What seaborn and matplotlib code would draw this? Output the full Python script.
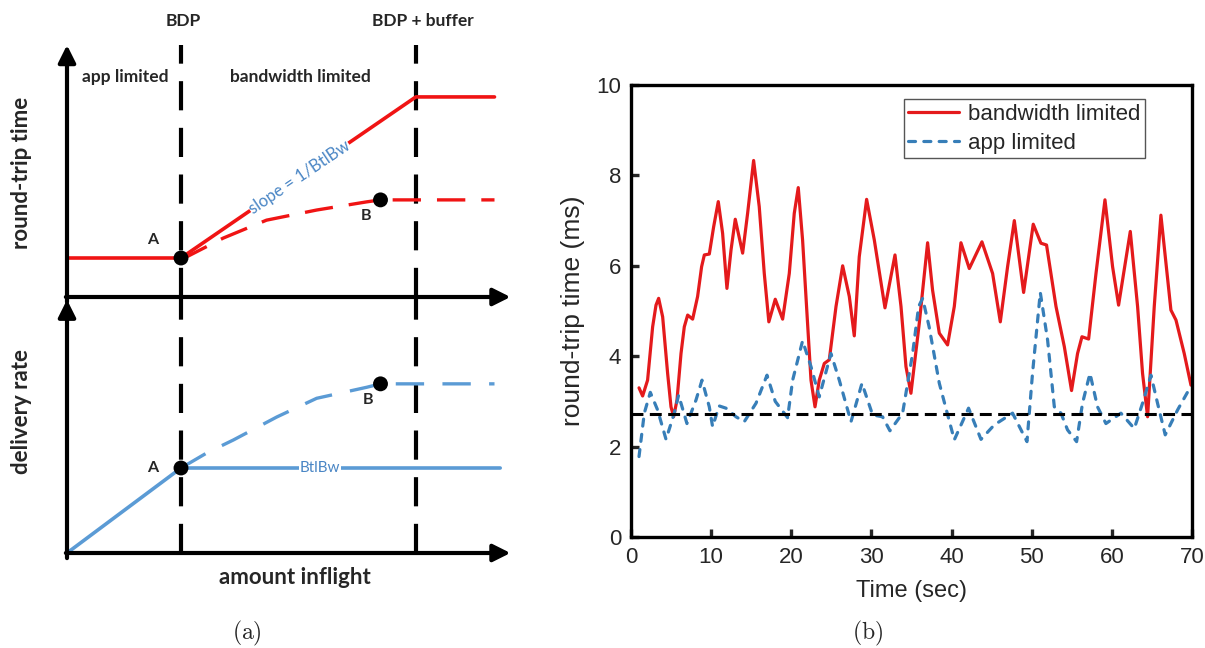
import numpy as np
import pandas as pd
import seaborn as sns
import matplotlib.pyplot as plt

# ---------------- panel (a): schematic, amount inflight in BDP units
bdp = 1.0
bdp_buffer = 3.06
x_end = 3.75

rtprop = 1.0
rtt_max = 5.13
rtt_solid_x = [0.0, bdp, bdp_buffer, x_end]
rtt_solid_y = [rtprop, rtprop, rtt_max, rtt_max]
rtt_dash_x = [1.0, 1.05, 1.37, 1.75, 2.19, 2.63, 2.75, 3.75]
rtt_dash_y = [1.0, 1.03, 1.51, 1.97, 2.23, 2.44, 2.49, 2.49]

btlbw = 1.0
dr_solid_x = [0.0, bdp, 3.8]
dr_solid_y = [0.0, btlbw, btlbw]
dr_dash_x = [1.0, 1.23, 1.46, 1.84, 2.19, 2.63, 2.75, 3.75]
dr_dash_y = [1.0, 1.18, 1.33, 1.60, 1.82, 1.95, 1.99, 1.99]

point_a = (1.0, 1.0)
rtt_point_b = (2.75, 2.49)
dr_point_b = (2.75, 1.99)

# ---------------- panel (b): measured round-trip time
bw_t = [1.0, 1.45, 2.07, 2.70, 3.12, 3.45, 3.95, 4.57, 4.99, 5.32, 5.74, 6.24, 6.65,
        7.07, 7.69, 8.31, 8.81, 9.15, 9.77, 10.31, 10.89, 11.43, 11.97, 12.48, 13.01,
        13.93, 14.55, 15.30, 16.0, 16.63, 17.2, 18.0, 18.92, 19.75, 20.37, 20.87, 21.41,
        22.03, 22.46, 22.96, 23.49, 24.12, 24.74, 25.58, 26.41, 27.24, 27.86, 28.48,
        29.4, 30.36, 31.69, 32.94, 33.69, 34.31, 34.93, 35.97, 37.01, 37.63, 38.47,
        39.5, 40.34, 41.17, 42.21, 43.79, 45.12, 46.08, 46.99, 47.83, 48.99, 50.19,
        51.15, 51.85, 53.03, 54.07, 54.97, 55.72, 56.27, 57.1, 58.02, 59.14, 60.09,
        60.84, 62.3, 63.21, 63.83, 64.46, 65.29, 66.12, 67.37, 68.0, 69.03, 69.87]
bw_rtt = [3.3, 3.12, 3.47, 4.65, 5.13, 5.28, 4.87, 3.62, 2.88, 2.66, 3.03, 4.06, 4.65,
          4.91, 4.82, 5.32, 5.98, 6.24, 6.26, 6.86, 7.42, 6.72, 5.50, 6.35, 7.03,
          6.28, 7.16, 8.33, 7.31, 5.83, 4.76, 5.26, 4.82, 5.83, 7.16, 7.73, 6.57,
          4.73, 3.47, 2.88, 3.47, 3.84, 3.92, 5.10, 6.0, 5.32, 4.45, 6.20,
          7.47, 6.57, 5.07, 6.24, 5.10, 3.77, 3.18, 4.73, 6.51, 5.46, 4.51,
          4.25, 5.10, 6.51, 5.94, 6.53, 5.83, 4.76, 5.98, 7.0, 5.41, 6.92,
          6.50, 6.46, 5.10, 4.21, 3.24, 4.06, 4.43, 4.38, 5.83, 7.46, 5.98,
          5.13, 6.76, 5.10, 3.62, 2.66, 5.10, 7.12, 5.02, 4.80, 4.06, 3.36]

app_t = [1.0, 1.66, 2.41, 3.32, 4.37, 5.4, 5.94, 6.98, 8.11, 8.86, 9.77, 10.18, 11.0,
         11.85, 13.1, 14.13, 15.6, 16.97, 18.0, 19.54, 20.17, 21.41, 22.46, 23.49,
         24.95, 25.99, 27.45, 28.82, 30.15, 31.39, 32.31, 33.89, 35.14, 35.89, 36.39,
         37.2, 38.47, 40.34, 42.12, 43.67, 45.33, 47.61, 49.41, 50.1, 51.07, 51.98,
         52.82, 53.65, 54.47, 55.6, 56.34, 57.27, 58.21, 59.26, 61.13, 62.8, 63.83,
         64.88, 65.7, 66.66, 68.2, 69.87]
app_rtt = [1.78, 2.74, 3.2, 2.81, 2.16, 2.74, 3.14, 2.51, 3.03, 3.47, 2.88, 2.44, 2.90,
           2.85, 2.66, 2.55, 2.96, 3.58, 3.0, 2.64, 3.47, 4.34, 3.77, 3.10,
           4.06, 3.47, 2.55, 3.40, 2.70, 2.66, 2.35, 2.74, 4.06, 5.1, 5.28,
           4.65, 3.40, 2.15, 2.85, 2.16, 2.48, 2.74, 2.11, 3.62, 5.41, 4.36,
           2.88, 2.74, 2.37, 2.11, 2.96, 3.62, 2.88, 2.51, 2.74, 2.40, 2.96,
           3.58, 2.96, 2.26, 2.81, 3.34]

baseline = 2.73

sns.set_style('white')
plt.rcParams['font.family'] = ['Liberation Sans', 'DejaVu Sans']
plt.rcParams['lines.solid_joinstyle'] = 'round'

W, H = 1205, 648
fig = plt.figure(figsize=(W / 100, H / 100), dpi=100)


def fx(x):
    return x / W


def fy(y):
    return 1 - y / H


red_a = '#f01414'
blue_a = '#5b9bd5'
red_b = '#e41a1c'
blue_b = '#377eb8'
bold_font = dict(family='Lato', fontweight='bold')

ax_rtt = fig.add_axes([fx(67), fy(297), 448 / W, 257 / H])
ax_dr = fig.add_axes([fx(67), fy(553), 448 / W, 256 / H])

for ax, ytop, ylim in [(ax_rtt, 6.46, 257 / 39), (ax_dr, 2.98, 256 / 85)]:
    ax.set_xlim(0, 448 / 114)
    ax.set_ylim(0, ylim)
    ax.axis('off')
    ax.patch.set_alpha(0)
    arrow = dict(arrowstyle='-|>', color='black', lw=3, mutation_scale=26,
                 shrinkA=0, shrinkB=0)
    ax.annotate('', xy=(3.89, 0), xytext=(-0.01, 0), arrowprops=arrow,
                annotation_clip=False)
    ax.annotate('', xy=(0, ytop), xytext=(0, -0.02 * ylim), arrowprops=arrow,
                annotation_clip=False)

# vertical guide lines
guide = dict(color='black', lw=3, linestyle=(0, (7, 4.2)))
ax_rtt.axvline(bdp, ymin=0, ymax=0.98, **guide)
ax_rtt.axvline(bdp_buffer, ymin=0, ymax=0.98, **guide)
ax_dr.axvline(bdp, ymin=0, ymax=1, **guide)
ax_dr.axvline(bdp_buffer, ymin=0, ymax=1, **guide)

# round-trip time schematic
sns.lineplot(x=rtt_solid_x, y=rtt_solid_y, ax=ax_rtt, color=red_a, lw=2.6,
             sort=False, estimator=None)
sns.lineplot(x=rtt_dash_x, y=rtt_dash_y, ax=ax_rtt, color=red_a, lw=2.4,
             linestyle=(0, (8.5, 4.8)), sort=False, estimator=None)
sns.scatterplot(x=[point_a[0], rtt_point_b[0]], y=[point_a[1], rtt_point_b[1]],
                ax=ax_rtt, color='black', s=115, zorder=5, edgecolor='none')
ax_rtt.text(2.04, 3.07, 'slope = 1/BtlBw', color='#4a86c5', fontsize=12,
            rotation=34, ha='center', va='center', family='Lato',
            bbox=dict(facecolor='white', edgecolor='none', pad=0.3))

# delivery rate schematic
sns.lineplot(x=dr_solid_x, y=dr_solid_y, ax=ax_dr, color=blue_a, lw=2.6,
             sort=False, estimator=None)
sns.lineplot(x=dr_dash_x, y=dr_dash_y, ax=ax_dr, color=blue_a, lw=2.4,
             linestyle=(0, (8.5, 5.5)), sort=False, estimator=None)
sns.scatterplot(x=[point_a[0], dr_point_b[0]], y=[point_a[1], dr_point_b[1]],
                ax=ax_dr, color='black', s=115, zorder=5, edgecolor='none')
ax_dr.text(2.22, btlbw, 'BtlBw', color='#4a86c5', fontsize=11, ha='center',
           va='center', family='Lato',
           bbox=dict(facecolor='white', edgecolor='none', pad=0.3))

# labels for panel (a)
fig.text(fx(183), fy(21), 'BDP', ha='center', va='center', fontsize=12.5, **bold_font)
fig.text(fx(423), fy(21), 'BDP + buffer', ha='center', va='center', fontsize=12.5, **bold_font)
fig.text(fx(125), fy(77), 'app limited', ha='center', va='center', fontsize=12.5, **bold_font)
fig.text(fx(300), fy(77), 'bandwidth limited', ha='center', va='center', fontsize=12.5, **bold_font)
fig.text(fx(22), fy(173), 'round-trip time', ha='center', va='center', rotation=90,
         fontsize=16, **bold_font)
fig.text(fx(22), fy(411), 'delivery rate', ha='center', va='center', rotation=90,
         fontsize=16, **bold_font)
fig.text(fx(295), fy(578), 'amount inflight', ha='center', va='center', fontsize=16, **bold_font)
fig.text(fx(153), fy(240), 'A', ha='center', va='center', fontsize=11.5, **bold_font)
fig.text(fx(366), fy(216), 'B', ha='center', va='center', fontsize=11.5, **bold_font)
fig.text(fx(153), fy(468), 'A', ha='center', va='center', fontsize=11.5, **bold_font)
fig.text(fx(368), fy(400), 'B', ha='center', va='center', fontsize=11.5, **bold_font)

plt.rcParams['mathtext.fontset'] = 'cm'
fig.text(fx(247), fy(633), r'$(\mathrm{a})$', ha='center', va='center', fontsize=17)
fig.text(fx(868), fy(633), r'$(\mathrm{b})$', ha='center', va='center', fontsize=17)

# ---------------- panel (b)
ax_b = fig.add_axes([fx(631), fy(537), 561 / W, 452 / H])
sns.lineplot(x=bw_t, y=bw_rtt, ax=ax_b, color=red_b, lw=2.3, sort=False,
             estimator=None, label='bandwidth limited')
sns.lineplot(x=app_t, y=app_rtt, ax=ax_b, color=blue_b, lw=2.3, sort=False,
             estimator=None, linestyle=(0, (2.2, 2.6)), dash_capstyle='round',
             label='app limited')
ax_b.axhline(baseline, color='black', lw=2.2, linestyle=(0, (3.9, 2.1)))

ax_b.set_xlim(0, 70)
ax_b.set_ylim(0, 10)
ax_b.set_xticks(np.arange(0, 71, 10))
ax_b.set_yticks(np.arange(0, 11, 2))
ax_b.tick_params(direction='in', length=6, width=2.4, labelsize=16, pad=7,
                 bottom=True, left=True, top=False, right=False)
for sp in ax_b.spines.values():
    sp.set_linewidth(2.4)
    sp.set_color('black')
ax_b.set_xlabel('Time (sec)', fontsize=17, labelpad=9)
ax_b.set_ylabel('round-trip time (ms)', fontsize=19, labelpad=8)

leg = ax_b.legend(loc='upper right', bbox_to_anchor=(0.916, 0.968), fontsize=16,
                  frameon=True, fancybox=False, framealpha=1, handlelength=2.3,
                  handletextpad=0.4, borderpad=0.2, labelspacing=0.35,
                  borderaxespad=0)
leg.get_frame().set_edgecolor('#555555')
leg.get_frame().set_linewidth(1.0)

fig.savefig('out.png', dpi=100)
